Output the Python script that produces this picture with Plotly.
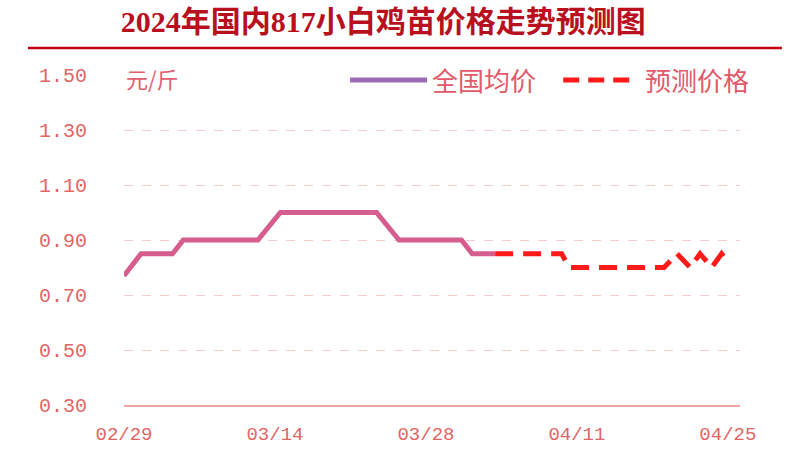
import plotly.graph_objects as go

# ---- data ----
actual_dates = ["2024-02-29 00:00", "2024-03-01 14:00", "2024-03-04 12:00", "2024-03-05 12:00",
                "2024-03-12 10:00", "2024-03-14 12:00", "2024-03-23 10:00", "2024-03-25 12:00",
                "2024-03-31 07:00", "2024-04-01 07:00", "2024-04-03 10:00"]
actual_vals = [0.77, 0.85, 0.85, 0.90, 0.90, 1.00, 1.00, 0.90, 0.90, 0.85, 0.85]

fc_dates = ["2024-04-03 10:00", "2024-04-09 14:00", "2024-04-10 07:00", "2024-04-19 02:00",
            "2024-04-20 07:00", "2024-04-21 12:00", "2024-04-22 10:00", "2024-04-23 12:00",
            "2024-04-24 10:00", "2024-04-25 00:00"]
fc_vals = [0.85, 0.85, 0.80, 0.80, 0.85, 0.80, 0.85, 0.80, 0.85, 0.82]

x_tickvals = ["2024-02-29", "2024-03-14", "2024-03-28", "2024-04-11", "2024-04-25"]
x_ticktext = ["02/29", "03/14", "03/28", "04/11", "04/25"]
y_tickvals = [0.30, 0.50, 0.70, 0.90, 1.10, 1.30, 1.50]
y_ticktext = ["0.30", "0.50", "0.70", "0.90", "1.10", "1.30", "1.50"]

title_text = "2024年国内817小白鸡苗价格走势预测图"
unit_text = "元/斤"
legend_names = ["全国均价", "预测价格"]

ACTUAL_COLOR = "#d65e8e"
LEGEND_PURPLE = "#9b6cb4"
FC_COLOR = "#ff1a1a"
TICK_COLOR = "#e06565"
MONO = "Liberation Mono, DejaVu Sans Mono, monospace"
CJK = "Noto Sans CJK SC, sans-serif"

fig = go.Figure()
fig.add_trace(go.Scatter(x=actual_dates, y=actual_vals, mode="lines",
                         line=dict(color=ACTUAL_COLOR, width=5), showlegend=False))
fig.add_trace(go.Scatter(x=fc_dates, y=fc_vals, mode="lines",
                         line=dict(color=FC_COLOR, width=5, dash="18px,10px"), showlegend=False))

fig.update_layout(
    width=800, height=449,
    margin=dict(l=124, r=60, t=75, b=44),
    paper_bgcolor="white", plot_bgcolor="white",
    showlegend=False,
    title=dict(text="<b>" + title_text + "</b>", x=0.479, xanchor="center", y=0.953, yanchor="middle",
               automargin=False,
               font=dict(family="Liberation Serif, " + CJK, size=30, color="#b8101e")),
    xaxis=dict(type="date", range=["2024-02-29 00:00", "2024-04-26 03:00"],
               tickvals=x_tickvals, ticktext=x_ticktext, showgrid=False,
               showline=True, linecolor="#eba5a5", linewidth=1.5, automargin=False,
               ticks="", ticklabelstandoff=10,
               tickfont=dict(family=MONO, size=19, color=TICK_COLOR), zeroline=False),
    yaxis=dict(range=[0.30, 1.50], tickvals=y_tickvals, ticktext=y_ticktext,
               showgrid=True, gridcolor="#f4cccc", griddash="dash", gridwidth=1,
               showline=False, ticks="", ticklabelstandoff=36, zeroline=False, automargin=False,
               tickfont=dict(family=MONO, size=20, color=TICK_COLOR)),
)

# title underline
fig.add_shape(type="line", xref="paper", yref="paper", x0=-0.156, x1=1.068, y0=1.082, y1=1.082,
              line=dict(color="#c40010", width=2.5))

# unit label
fig.add_annotation(text=unit_text, xref="paper", yref="paper", x=0.0, y=0.99,
                   xanchor="left", yanchor="middle", showarrow=False,
                   font=dict(family=CJK, size=22, color="#e06070"))

# manual legend
fig.add_shape(type="line", xref="paper", yref="paper", x0=0.367, x1=0.492, y0=0.985, y1=0.985,
              line=dict(color=LEGEND_PURPLE, width=5))
fig.add_annotation(text=legend_names[0], xref="paper", yref="paper", x=0.497, y=0.985,
                   xanchor="left", yanchor="middle", showarrow=False,
                   font=dict(family=CJK, size=26, color="#e05a6a"))
fig.add_shape(type="line", xref="paper", yref="paper", x0=0.713, x1=0.825, y0=0.985, y1=0.985,
              line=dict(color=FC_COLOR, width=5, dash="16px,9px"))
fig.add_annotation(text=legend_names[1], xref="paper", yref="paper", x=0.843, y=0.985,
                   xanchor="left", yanchor="middle", showarrow=False,
                   font=dict(family=CJK, size=26, color="#e05a6a"))

fig.write_html("out.html", config={"displayModeBar": False},
               post_script="document.body.style.margin='0';")
